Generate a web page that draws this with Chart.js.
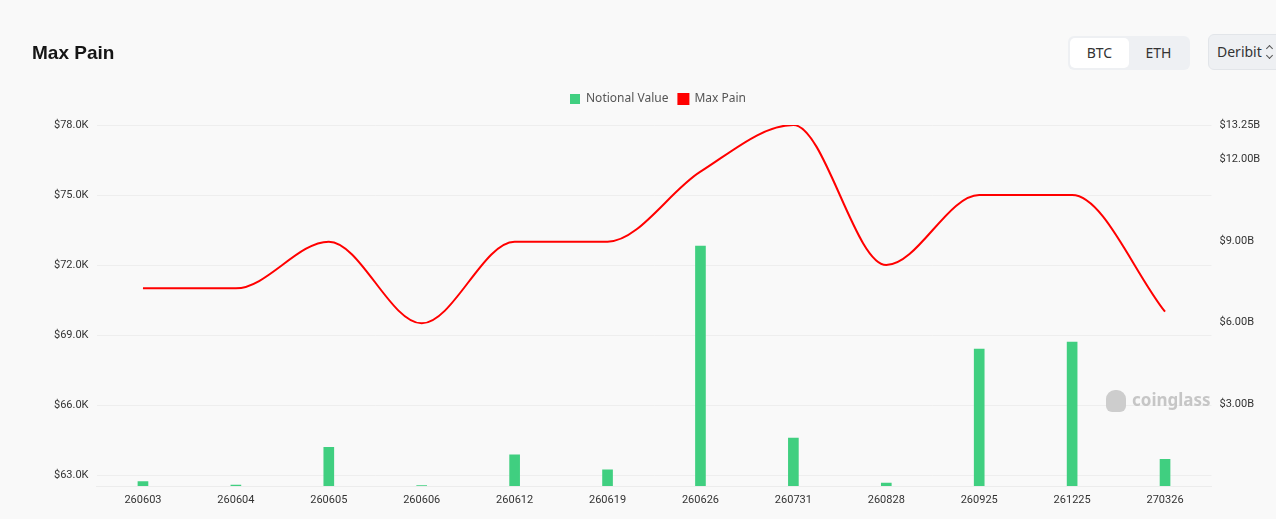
<!DOCTYPE html>
<html lang="en">
<head>
  <meta charset="UTF-8">
  <title>Max Pain</title>
  <style>
    body {
      margin: 0;
      background: #f9f9f9;
      font-family: "Noto Sans", Arial, sans-serif;
      width: 1276px;
      height: 519px;
      overflow: hidden;
      position: relative;
    }
    .chart-box {
      position: absolute;
      left: 0;
      top: 0;
      width: 1276px;
      height: 519px;
    }
    h1 {
      position: absolute;
      left: 32px;
      top: 42px;
      margin: 0;
      font-family: "Liberation Sans", Arial, sans-serif;
      font-size: 19px;
      font-weight: bold;
      color: #151515;
    }
    /* BTC / ETH switch */
    .switch {
      position: absolute;
      left: 1068px;
      top: 36px;
      width: 122px;
      height: 34px;
      background: #eef0f3;
      border-radius: 6px;
      box-sizing: border-box;
      padding: 2px;
      display: flex;
      font-size: 14px;
      color: #333;
    }
    .switch span {
      flex: 1;
      text-align: center;
      line-height: 30px;
      border-radius: 5px;
    }
    .switch .on { background: #fff; }
    .exchange {
      position: absolute;
      left: 1208px;
      top: 34px;
      width: 90px;
      height: 36px;
      box-sizing: border-box;
      background: #eef0f3;
      border: 1px solid #e2e5e9;
      border-radius: 6px;
      font-size: 14px;
      color: #333;
      line-height: 34px;
      padding-left: 8px;
    }
    .exchange i {
      font-style: normal;
      position: absolute;
      left: 57px;
      top: 9px;
      width: 8px;
      height: 16px;
    }
    .exchange i::before, .exchange i::after {
      content: "";
      position: absolute;
      left: 1px;
      width: 4px;
      height: 4px;
      border-left: 1.3px solid #555;
      border-top: 1.3px solid #555;
    }
    .exchange i::before { top: 2px; transform: rotate(45deg); }
    .exchange i::after { top: 9px; transform: rotate(225deg); }
    .watermark {
      position: absolute;
      left: 1106px;
      top: 387px;
      color: #c6c6c6;
      font-family: "Noto Sans", sans-serif;
      font-weight: bold;
      font-size: 17px;
      line-height: 26px;
    }
    .watermark b {
      display: inline-block;
      width: 20px;
      height: 22px;
      background: #cdcdcd;
      border-radius: 9px 9px 6px 6px;
      vertical-align: middle;
      margin-right: 6px;
    }
  </style>
</head>
<body>

  <div class="chart-box">
    <canvas id="maxPainChart"></canvas>
  </div>

  <h1>Max Pain</h1>
  <div class="switch"><span class="on">BTC</span><span>ETH</span></div>
  <div class="exchange">Deribit<i></i></div>
  <div class="watermark"><b></b>coinglass</div>

  <script src="https://cdn.jsdelivr.net/npm/chart.js"></script>
  <script>
    // expiry dates (YYMMDD)
    const categories = ['260603', '260604', '260605', '260606', '260612', '260619',
                        '260626', '260731', '260828', '260925', '261225', '270326'];
    // notional value, USD
    const notionalValue = [0.16e9, 0.03e9, 1.42e9, 0.02e9, 1.14e9, 0.59e9,
                           8.81e9, 1.76e9, 0.11e9, 5.03e9, 5.28e9, 0.98e9];
    // max pain price, USD
    const maxPain = [71000, 71000, 73000, 69500, 73000, 73000,
                     76000, 78000, 72000, 75000, 75000, 70000];
    const priceTicks = [63000, 66000, 69000, 72000, 75000, 78000];
    const notionalTicks = [3e9, 6e9, 9e9, 12e9, 13.25e9];

    const tickFont = { family: 'Roboto', size: 11 };

    // a bit more room under the legend, and centre it over the plot area
    const legendTweak = {
      id: 'legendTweak',
      afterInit(chart) {
        const legend = chart.legend;
        const fit = legend.fit;
        legend.fit = function () {
          fit.call(this);
          this.height += 10;
        };
      },
      beforeDraw(chart) {
        chart.legend.left = 20;
        chart.legend.right = chart.width + 20;
      }
    };

    const ctx = document.getElementById('maxPainChart').getContext('2d');
    new Chart(ctx, {
      data: {
        labels: categories,
        datasets: [{
          type: 'bar',
          label: 'Notional Value',
          data: notionalValue,
          yAxisID: 'y1',
          backgroundColor: '#40cf80',
          barThickness: 10
        }, {
          type: 'line',
          label: 'Max Pain',
          data: maxPain,
          yAxisID: 'y',
          borderColor: '#ff0000',
          backgroundColor: '#ff0000',
          borderWidth: 2,
          pointRadius: 0,
          cubicInterpolationMode: 'monotone'
        }]
      },
      plugins: [legendTweak],
      options: {
        responsive: true,
        maintainAspectRatio: false,
        animation: false,
        layout: { padding: { top: 83, left: 0, right: 0, bottom: 0 } },
        plugins: {
          tooltip: { enabled: false },
          legend: {
            position: 'top',
            labels: {
              boxWidth: 10,
              boxHeight: 10,
              padding: 10,
              color: '#555',
              font: { family: 'Noto Sans', size: 12 }
            }
          }
        },
        scales: {
          x: {
            grid: { display: false, drawTicks: false },
            border: { color: 'rgba(0,0,0,0.05)' },
            ticks: { color: '#333', font: tickFont, padding: 8, maxRotation: 0 },
            afterFit(scale) { scale.height = 33; }
          },
          y: {
            position: 'left',
            min: 62530,
            max: 78000,
            afterBuildTicks(scale) { scale.ticks = priceTicks.map(v => ({ value: v })); },
            grid: { color: 'rgba(0,0,0,0.045)', drawTicks: false },
            border: { display: false },
            ticks: {
              color: '#333',
              font: tickFont,
              padding: 8,
              callback: v => '$' + (v / 1000).toFixed(1) + 'K'
            },
            afterFit(scale) { scale.width = 96.5; }
          },
          y1: {
            position: 'right',
            min: 0,
            max: 13.25e9,
            afterBuildTicks(scale) { scale.ticks = notionalTicks.map(v => ({ value: v })); },
            grid: { display: false, drawTicks: false },
            border: { display: false },
            ticks: {
              color: '#333',
              font: tickFont,
              padding: 8,
              callback: v => '$' + (v / 1e9).toFixed(2) + 'B'
            },
            afterFit(scale) { scale.width = 64.5; }
          }
        }
      }
    });
  </script>
</body>
</html>
